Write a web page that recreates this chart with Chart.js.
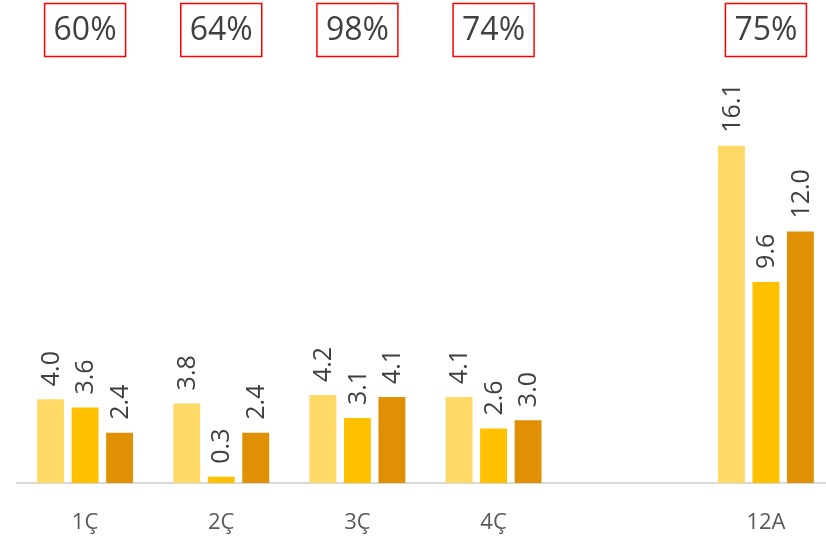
<!DOCTYPE html>
<html>
<head>
<meta charset="utf-8">
<script src="https://cdn.jsdelivr.net/npm/chart.js@4"></script>
<style>
  html, body { margin: 0; padding: 0; background: #fff; overflow: hidden; }
  #wrap { width: 836px; height: 536px; }
</style>
</head>
<body>
<div id="wrap"><canvas id="chart"></canvas></div>
<script>
// chart data
const categories = ['1Ç', '2Ç', '3Ç', '4Ç', '', '12A'];
const seriesA = [4.0, 3.8, 4.2, 4.1, null, 16.1];
const seriesB = [3.6, 0.3, 3.1, 2.6, null, 9.6];
const seriesC = [2.4, 2.4, 4.1, 3.0, null, 12.0];
const percentLabels = ['60%', '64%', '98%', '74%', '', '75%'];

const FONT = '"Open Sans", "Noto Sans", sans-serif';

// rotated value labels above the bars
const valueLabels = {
    id: 'valueLabels',
    afterDatasetsDraw(chart) {
        const ctx = chart.ctx;
        ctx.save();
        ctx.fillStyle = '#404040';
        ctx.font = '25px ' + FONT;
        ctx.textAlign = 'left';
        ctx.textBaseline = 'middle';
        chart.data.datasets.forEach((ds, i) => {
            const meta = chart.getDatasetMeta(i);
            meta.data.forEach((bar, j) => {
                const v = ds.data[j];
                if (v == null) return;
                ctx.save();
                ctx.translate(bar.x, bar.y - 13);
                ctx.rotate(-Math.PI / 2);
                ctx.fillText(v.toFixed(1), 0, 1);
                ctx.restore();
            });
        });
        ctx.restore();
    }
};

// red boxes with percentages on top
const percentBoxes = {
    id: 'percentBoxes',
    afterDraw(chart) {
        const ctx = chart.ctx;
        const xs = chart.scales.x;
        ctx.save();
        percentLabels.forEach((txt, i) => {
            if (!txt) return;
            const cx = xs.getPixelForValue(i);
            ctx.strokeStyle = '#ff0000';
            ctx.lineWidth = 1.5;
            ctx.strokeRect(cx - 40.5, 3.5, 81, 53);
            ctx.fillStyle = '#404040';
            ctx.font = '32px ' + FONT;
            ctx.textAlign = 'center';
            ctx.textBaseline = 'middle';
            ctx.fillText(txt, cx, 31);
        });
        ctx.restore();
    }
};

new Chart(document.getElementById('chart'), {
    type: 'bar',
    data: {
        labels: categories,
        datasets: [
            { label: 'A', data: seriesA, backgroundColor: '#ffd966' },
            { label: 'B', data: seriesB, backgroundColor: '#ffc000' },
            { label: 'C', data: seriesC, backgroundColor: '#e09004' }
        ]
    },
    options: {
        responsive: true,
        maintainAspectRatio: false,
        animation: false,
        categoryPercentage: 0.76,
        barPercentage: 0.78,
        layout: { padding: { top: 64, left: 17, right: 2, bottom: 0 } },
        scales: {
            x: {
                grid: { display: false },
                border: { display: true, color: '#d9d9d9', width: 2 },
                ticks: {
                    color: '#595959',
                    font: { size: 22, family: FONT },
                    padding: 19,
                    maxRotation: 0,
                    autoSkip: false
                },
                afterFit(scale) { scale.height = 53; }
            },
            y: {
                display: false,
                min: 0,
                max: 20
            }
        },
        plugins: {
            legend: { display: false },
            tooltip: { enabled: false }
        }
    },
    plugins: [valueLabels, percentBoxes]
});
</script>
</body>
</html>
